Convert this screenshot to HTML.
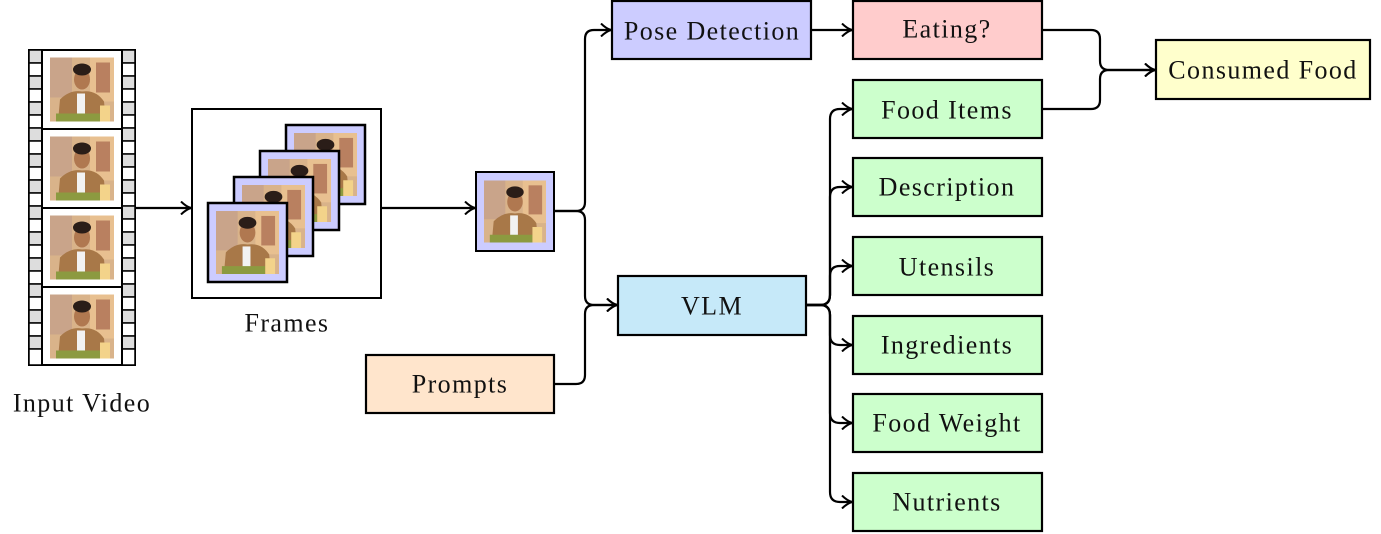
<!DOCTYPE html>
<html><head><meta charset="utf-8"><style>
html,body{margin:0;padding:0;background:#fff;}
svg{display:block;}
text{font-family:"Liberation Serif",serif;font-size:26px;letter-spacing:1.4px;fill:#111;text-anchor:middle;dominant-baseline:central;}
</style></head><body>
<svg width="1381" height="534" viewBox="0 0 1381 534" xmlns="http://www.w3.org/2000/svg">
<defs>
<symbol id="img" viewBox="0 0 64 64">
<rect width="64" height="64" fill="#d9b38a"/>
<rect x="0" y="0" width="22" height="40" fill="#c9a48a"/>
<rect x="40" y="0" width="24" height="44" fill="#e8c090"/>
<rect x="46" y="5" width="14" height="30" fill="#b98060"/>
<path d="M8 64 L10 42 Q20 32 32 34 Q46 32 54 44 L56 64 Z" fill="#a87848"/>
<rect x="27" y="36" width="8" height="22" fill="#f2f2f2"/>
<ellipse cx="32" cy="22" rx="8" ry="10" fill="#b07850"/>
<ellipse cx="32" cy="12" rx="9" ry="6" fill="#2a1d18"/>
<rect x="6" y="56" width="44" height="8" fill="#8c9a40"/>
<rect x="50" y="48" width="10" height="16" fill="#f3d38a"/>
</symbol>
<marker id="ar" viewBox="0 0 12 14" refX="11" refY="7" markerWidth="12" markerHeight="14" markerUnits="userSpaceOnUse" orient="auto">
<path d="M1 0.5 Q6 5.5 11 7 Q6 8.5 1 13.5" fill="none" stroke="#000" stroke-width="2"/>
</marker>
</defs>

<g stroke="#000" stroke-width="2">
<rect x="29" y="50" width="106" height="315" fill="#fff"/>
</g>
<g stroke="#000" stroke-width="1.5">
<g id="spk">
<rect x="29" y="50" width="13" height="13" fill="#ddd"/><rect x="29" y="63" width="13" height="13" fill="#fff"/>
<rect x="29" y="76" width="13" height="13" fill="#ddd"/><rect x="29" y="89" width="13" height="13" fill="#fff"/>
<rect x="29" y="102" width="13" height="13" fill="#ddd"/><rect x="29" y="115" width="13" height="13" fill="#fff"/>
<rect x="29" y="128" width="13" height="13" fill="#ddd"/><rect x="29" y="141" width="13" height="13" fill="#fff"/>
<rect x="29" y="154" width="13" height="13" fill="#ddd"/><rect x="29" y="167" width="13" height="13" fill="#fff"/>
<rect x="29" y="180" width="13" height="13" fill="#ddd"/><rect x="29" y="193" width="13" height="13" fill="#fff"/>
<rect x="29" y="206" width="13" height="13" fill="#ddd"/><rect x="29" y="219" width="13" height="13" fill="#fff"/>
<rect x="29" y="232" width="13" height="13" fill="#ddd"/><rect x="29" y="245" width="13" height="13" fill="#fff"/>
<rect x="29" y="258" width="13" height="13" fill="#ddd"/><rect x="29" y="271" width="13" height="13" fill="#fff"/>
<rect x="29" y="284" width="13" height="13" fill="#ddd"/><rect x="29" y="297" width="13" height="13" fill="#fff"/>
<rect x="29" y="310" width="13" height="13" fill="#ddd"/><rect x="29" y="323" width="13" height="13" fill="#fff"/>
<rect x="29" y="336" width="13" height="13" fill="#ddd"/><rect x="29" y="349" width="13" height="16" fill="#fff"/>
</g>
<use href="#spk" x="93"/>
<rect x="42" y="50" width="80" height="79" fill="#fff" stroke-width="2"/>
<rect x="42" y="129" width="80" height="79" fill="#fff" stroke-width="2"/>
<rect x="42" y="208" width="80" height="79" fill="#fff" stroke-width="2"/>
<rect x="42" y="287" width="80" height="78" fill="#fff" stroke-width="2"/>
</g>
<use href="#img" x="50" y="57" width="64" height="65"/>
<use href="#img" x="50" y="136" width="64" height="65"/>
<use href="#img" x="50" y="215" width="64" height="65"/>
<use href="#img" x="50" y="294" width="64" height="65"/>
<text x="82" y="403">Input Video</text>

<rect x="192" y="109" width="189" height="189" fill="#fff" stroke="#000" stroke-width="2"/>
<rect x="286" y="125" width="79" height="79" fill="#ccccff" stroke="#000" stroke-width="2.5"/><use href="#img" x="294" y="133" width="63" height="63"/>
<rect x="260" y="151" width="79" height="79" fill="#ccccff" stroke="#000" stroke-width="2.5"/><use href="#img" x="268" y="159" width="63" height="63"/>
<rect x="234" y="177" width="79" height="79" fill="#ccccff" stroke="#000" stroke-width="2.5"/><use href="#img" x="242" y="185" width="63" height="63"/>
<rect x="208" y="203" width="79" height="79" fill="#ccccff" stroke="#000" stroke-width="2.5"/><use href="#img" x="216" y="211" width="63" height="63"/>
<text x="287" y="323">Frames</text>

<rect x="476" y="172" width="78" height="79" fill="#ccccff" stroke="#000" stroke-width="2"/>
<use href="#img" x="484" y="180" width="62" height="63"/>

<g stroke="#000" stroke-width="2.2">
<rect x="612" y="1" width="199" height="58" fill="#ccccff"/>
<rect x="853" y="1" width="189" height="58" fill="#ffcccc"/>
<rect x="1156" y="40" width="214" height="59" fill="#ffffcc"/>
<rect x="618" y="276" width="188" height="59" fill="#c6e9f9"/>
<rect x="366" y="355" width="188" height="58" fill="#ffe5cc"/>
<rect x="853" y="80" width="189" height="58" fill="#ccffcc"/>
<rect x="853" y="158" width="189" height="58" fill="#ccffcc"/>
<rect x="853" y="237" width="189" height="58" fill="#ccffcc"/>
<rect x="853" y="316" width="189" height="58" fill="#ccffcc"/>
<rect x="853" y="394" width="189" height="58" fill="#ccffcc"/>
<rect x="853" y="473" width="189" height="58" fill="#ccffcc"/>
</g>
<text x="712" y="31">Pose Detection</text>
<text x="947" y="29">Eating?</text>
<text x="1263" y="70">Consumed Food</text>
<text x="712" y="306">VLM</text>
<text x="460" y="384">Prompts</text>
<text x="947" y="110">Food Items</text>
<text x="947" y="187">Description</text>
<text x="947" y="267">Utensils</text>
<text x="947" y="345">Ingredients</text>
<text x="947" y="423">Food Weight</text>
<text x="947" y="502">Nutrients</text>

<g fill="none" stroke="#000" stroke-width="2.2" marker-end="url(#ar)">
<path d="M135 208 H191"/>
<path d="M381 208 H475"/>
<path d="M554 211 H576 Q585 211 585 202 V39 Q585 30 594 30 H611"/>
<path d="M554 211 H576 Q585 211 585 220 V296 Q585 305 594 305 H617"/>
<path d="M554 384 H576 Q585 384 585 375 V314 Q585 305 594 305 H617"/>
<path d="M811 30 H852"/>
<path d="M806 305 H820 Q830 305 830 295 V119 Q830 109 840 109 H852"/>
<path d="M806 305 H820 Q830 305 830 295 V197 Q830 187 840 187 H852"/>
<path d="M806 305 H820 Q830 305 830 295 V276 Q830 266 840 266 H852"/>
<path d="M806 305 H820 Q830 305 830 315 V335 Q830 345 840 345 H852"/>
<path d="M806 305 H820 Q830 305 830 315 V413 Q830 423 840 423 H852"/>
<path d="M806 305 H820 Q830 305 830 315 V492 Q830 502 840 502 H852"/>
<path d="M1042 30 H1091 Q1100 30 1100 39 V61 Q1100 70 1109 70 H1155"/>
<path d="M1042 109 H1091 Q1100 109 1100 100 V79 Q1100 70 1109 70 H1155"/>
</g>
</svg>
</body></html>
